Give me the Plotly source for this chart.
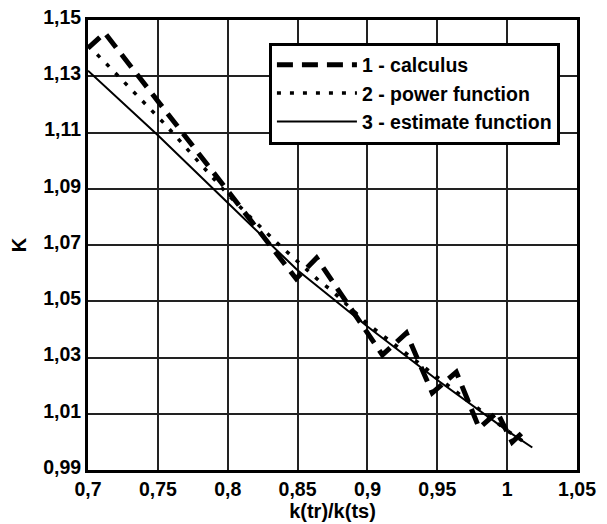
import plotly.graph_objects as go

# 1 - calculus (dashed, zig-zag)
calc_x = [0.700, 0.712, 0.849, 0.8636, 0.9107, 0.9279, 0.9464, 0.9636, 0.980, 0.9929, 1.0036, 1.0143]
calc_y = [1.140, 1.1454, 1.058, 1.0654, 1.0309, 1.0387, 1.0174, 1.0248, 1.0049, 1.0106, 0.9999, 1.0049]

# 2 - power function (dotted)
pow_x = [0.700, 0.714, 0.755, 0.800, 0.816, 0.837, 0.866, 0.874, 0.900, 0.950, 1.000, 1.015]
pow_y = [1.141, 1.134, 1.113, 1.088, 1.080, 1.070, 1.057, 1.054, 1.042, 1.023, 1.004, 0.999]

# 3 - estimate function (solid)
est_x = [0.700, 0.750, 0.800, 0.850, 0.900, 0.950, 1.000, 1.018]
est_y = [1.132, 1.109, 1.085, 1.061, 1.041, 1.022, 1.004, 0.998]

names = ["1 - calculus", "2 - power function", "3 - estimate function"]

FONT = "Liberation Sans, Arial, sans-serif"

fig = go.Figure()
fig.add_trace(go.Scatter(x=calc_x, y=calc_y, mode="lines", name=names[0],
                         line=dict(color="black", width=5, dash="16px,9px")))
fig.add_trace(go.Scatter(x=pow_x, y=pow_y, mode="lines", name=names[1],
                         line=dict(color="black", width=3.5, dash="4px,9px")))
fig.add_trace(go.Scatter(x=est_x, y=est_y, mode="lines", name=names[2],
                         line=dict(color="black", width=2)))

fig.update_layout(
    width=607, height=524,
    margin=dict(l=88, r=30, t=20, b=54),
    paper_bgcolor="white", plot_bgcolor="white",
    separators=",.",
    font=dict(family=FONT, size=19, color="black", weight="bold"),
    showlegend=True,
    legend=dict(x=0.37, y=0.95, xanchor="left", yanchor="top",
                bgcolor="white", bordercolor="black", borderwidth=3,
                font=dict(family=FONT, size=19.5, color="black", weight="bold"),
                itemwidth=80, tracegroupgap=0),
)
fig.update_xaxes(range=[0.7, 1.05], tick0=0.7, dtick=0.05, automargin=False,
                 showgrid=True, gridcolor="#222", gridwidth=1.5,
                 showline=True, linecolor="black", linewidth=3, mirror=True,
                 ticks="", zeroline=False,
                 tickfont=dict(family=FONT, size=19.5, color="black", weight="bold"),
                 title=dict(text="k(tr)/k(ts)", standoff=0,
                            font=dict(family=FONT, size=20, color="black", weight="bold")))
fig.update_yaxes(range=[0.99, 1.15], tick0=0.99, dtick=0.02, automargin=False,
                 showgrid=True, gridcolor="#222", gridwidth=1.5,
                 showline=True, linecolor="black", linewidth=3, mirror=True,
                 ticks="", zeroline=False, ticklabelshift=-3,
                 tickfont=dict(family=FONT, size=19.5, color="black", weight="bold"),
                 title=dict(text="K", standoff=12,
                            font=dict(family=FONT, size=20, color="black", weight="bold")))

fig.write_html("out.html", config={"displayModeBar": False},
               post_script="document.body.style.margin='0';")
